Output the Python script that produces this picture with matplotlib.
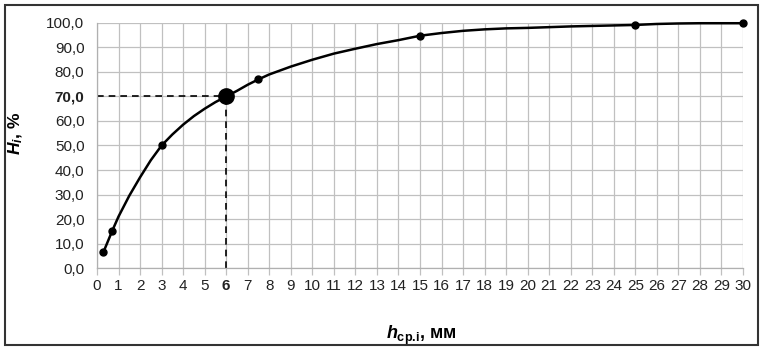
import numpy as np
import matplotlib as mpl
mpl.use('Agg')
import matplotlib.pyplot as plt
from matplotlib.patches import Rectangle

mpl.rcParams['font.family'] = ['Liberation Sans', 'DejaVu Sans']
mpl.rcParams['mathtext.fontset'] = 'custom'
mpl.rcParams['mathtext.it'] = 'Liberation Sans:italic:bold'
mpl.rcParams['mathtext.rm'] = 'Liberation Sans:bold'

# curve
curve_x = [0.3, 0.7, 1.0, 1.5, 2.0, 2.5, 3.0, 3.5, 4.0, 4.5, 5.0, 5.5, 6.0, 6.5, 7.0, 7.5,
           8, 9, 10, 11, 12, 13, 14, 15, 16, 17, 18, 19, 20, 21, 22, 23, 24, 25, 26, 27, 28, 29, 30]
curve_h = [6.5, 15.0, 21.0, 29.5, 37.0, 44.0, 50.0, 54.5, 58.5, 62.0, 65.0, 67.7, 70.0, 72.3, 74.8, 77.0,
           79.0, 82.2, 85.0, 87.5, 89.5, 91.4, 93.0, 94.8, 95.9, 96.8, 97.4, 97.8, 98.0, 98.3, 98.6, 98.8, 99.0, 99.2,
           99.6, 99.8, 99.9, 99.9, 99.9]

# marked points
point_x = [0.3, 0.7, 3, 7.5, 15, 25, 30]
point_h = [6.5, 15.0, 50.0, 77.0, 94.8, 99.2, 99.9]

# highlighted point
key_x = 6
key_h = 70.0

x_ticks = list(range(0, 31))
y_ticks = list(range(0, 101, 10))
y_labels = ["{:.1f}".format(v).replace('.', ',') for v in y_ticks]

fig = plt.figure(figsize=(7.63, 3.52), dpi=100)
ax = fig.add_axes([0.1271, 0.2386, 0.8467, 0.6961])

ax.plot(curve_x, curve_h, color='black', lw=1.8, zorder=3, clip_on=False)
ax.plot(point_x, point_h, 'o', color='black', markersize=5, zorder=4, clip_on=False)
ax.plot([key_x], [key_h], 'o', color='black', markersize=11, zorder=5)

# dashed guides to the 70 % point
ax.plot([0, key_x], [key_h, key_h], color='black', lw=1.2, ls=(0, (4, 3)), zorder=2)
ax.plot([key_x, key_x], [0, key_h], color='black', lw=1.2, ls=(0, (4, 3)), zorder=2)

ax.set_xlim(0, 30)
ax.set_ylim(0, 100)
ax.set_xticks(x_ticks)
ax.set_xticklabels([str(v) for v in x_ticks])
ax.set_yticks(y_ticks)
ax.set_yticklabels(y_labels)
ax.grid(True, color='#c0c0c0', lw=0.9)
ax.set_axisbelow(True)

for s in ['top', 'right']:
    ax.spines[s].set_visible(False)
for s in ['left', 'bottom']:
    ax.spines[s].set_color('#b0b0b0')
    ax.spines[s].set_linewidth(0.9)

ax.tick_params(axis='x', length=5, color='#c0c0c0', width=0.9, labelsize=11, pad=3, labelcolor='#222222')
ax.tick_params(axis='y', length=0, labelsize=11, pad=9, labelcolor='#222222')

for lab in ax.get_xticklabels():
    if lab.get_text() == '6':
        lab.set_fontweight('bold')
for lab in ax.get_yticklabels():
    if lab.get_text() == '70,0':
        lab.set_fontweight('bold')

ax.set_ylabel(r'$H_i$, %', fontsize=12.5, fontweight='bold')
ax.yaxis.set_label_coords(-0.111, 0.55)
ax.set_xlabel(r'$h_{\mathrm{ср.\!i}}$, мм', fontsize=13, fontweight='bold')
ax.xaxis.set_label_coords(0.503, -0.228)

fig.patches.append(Rectangle((0.006, 0.02), 0.988, 0.966, transform=fig.transFigure,
                             fill=False, edgecolor='#333333', lw=1.5))

plt.savefig('out.png', dpi=100)
plt.close(fig)
